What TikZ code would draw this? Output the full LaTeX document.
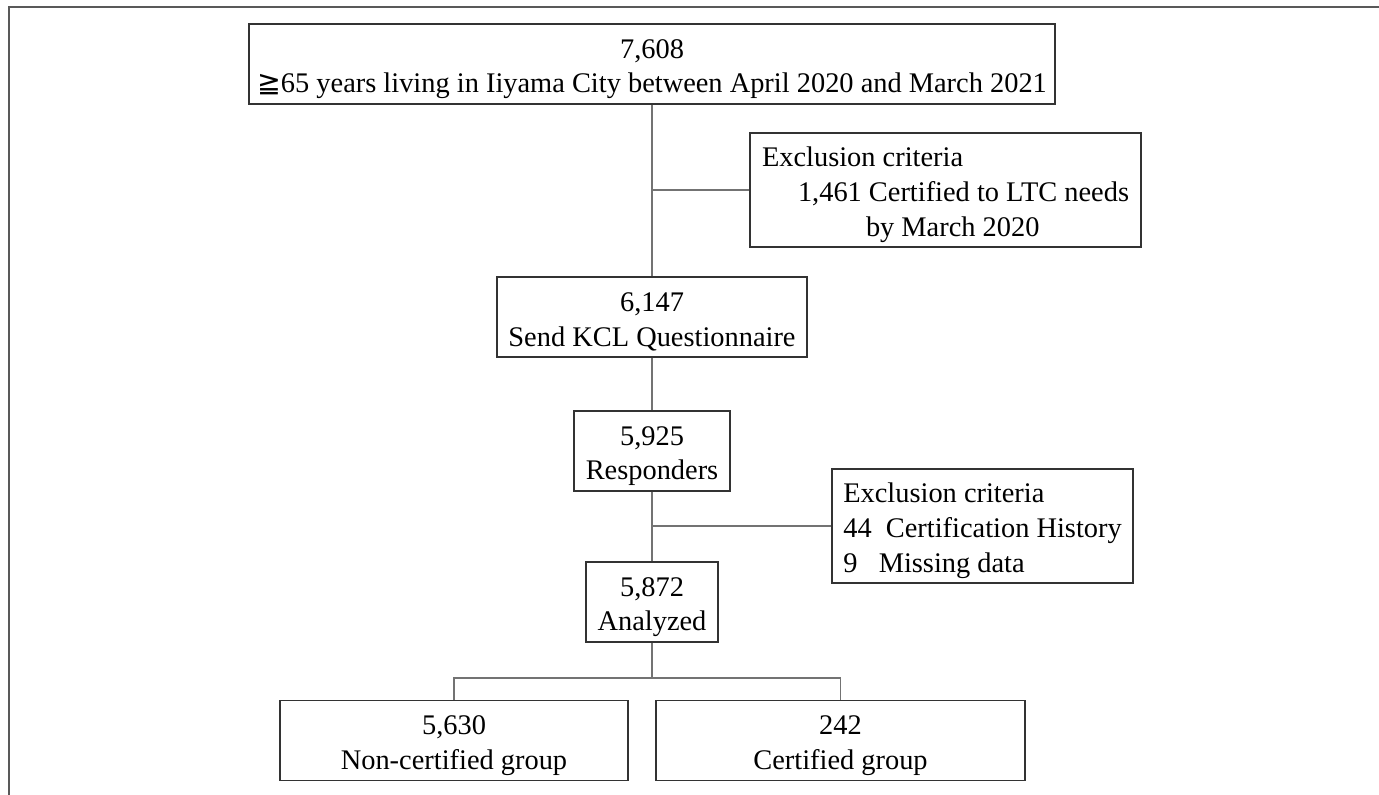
\documentclass[tikz,border=0pt]{standalone}
\usepackage{fontspec}
\setmainfont{Liberation Serif}
\newfontfamily\symfont{DejaVu Sans}
\usetikzlibrary{positioning}

\newcommand{\upstrut}{\rule{0pt}{14.5pt}}

\tikzset{
    box/.style={draw=black!80, line width=0.9pt, minimum height=40pt, inner sep=0pt,
        align=center, font=\fontsize{14.2}{17.4}\selectfont},
    exclbox/.style={box, align=left},
    link/.style={draw=black!55, line width=0.7pt},
}

\begin{document}
\begin{tikzpicture}[x=0.5pt,y=-0.5pt]
    \useasboundingbox (0,0) rectangle (1379,795);
    
    %Frame
    \draw [black!65, line width=1.1pt] (1379,7) -- (9,7) -- (9,795);
    
    %Main boxes
    \node [box, minimum width=403pt] (total) at (652,64) {\upstrut 7,608\\{\symfont ≧}65 years living in Iiyama City between April 2020 and March 2021};
    \node [box, minimum width=155pt] (send) at (652,317) {\upstrut 6,147\\Send KCL Questionnaire};
    \node [box, minimum width=78pt] (resp) at (652,451) {\upstrut 5,925\\Responders};
    \node [box, minimum width=66pt] (anal) at (652,602) {\upstrut 5,872\\Analyzed};
    
    %Exclusion boxes
    \node [exclbox, minimum height=57pt, minimum width=195.5pt] (exclA) at (945.5,190) {\upstrut Exclusion criteria\\\hspace*{18pt}1,461 Certified to LTC needs\\\hspace*{52pt}by March 2020};
    \node [exclbox, minimum height=57pt, minimum width=150.5pt] (exclB) at (982.5,526) {\upstrut Exclusion criteria\\44\ \ Certification History\\9\ \ \ Missing data};
    
    %Groups
    \node [box, minimum width=174pt] (noncert) at (454,740.5) {\upstrut 5,630\\Non-certified group};
    \node [box, minimum width=184.5pt] (cert) at (840.5,740.5) {\upstrut 242\\Certified group};
    
    %Connectors
    \draw [link] (total.south) -- (send.north);
    \draw [link] (send.south) -- (resp.north);
    \draw [link] (resp.south) -- (anal.north);
    \draw [link] (exclA.west) -- (exclA.west -| total.south);
    \draw [link] (exclB.west) -- (exclB.west -| resp.south);
    \draw [link] (anal.south) -- ++(0,35) coordinate (split);
    \draw [link] (noncert.north) |- (split) -| (cert.north);
    
\end{tikzpicture}
\end{document}
